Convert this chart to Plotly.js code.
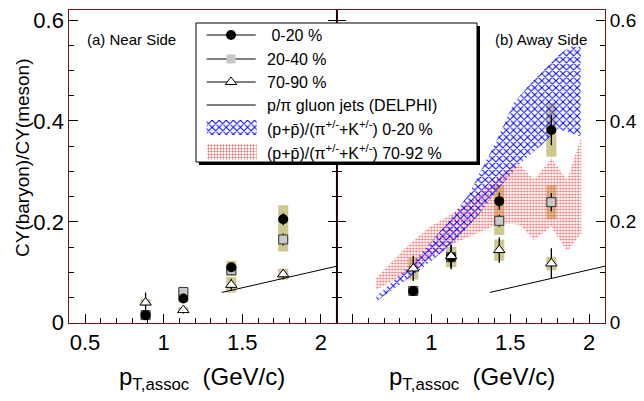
<!DOCTYPE html>
<html>
<head>
<meta charset="utf-8">
<script src="https://cdn.plot.ly/plotly-3.0.1.min.js"></script>
<style>html,body{margin:0;padding:0;background:#fff}#chart{width:644px;height:401px}</style>
</head>
<body>
<div id="chart"></div>
<script>
// ---------- data ----------
const ptAssoc = [0.885, 1.125, 1.43, 1.76];

// (a) Near side
const nearC0020 = [0.015, 0.048, 0.110, 0.205];
const nearC0020Stat = [0.006, 0.006, 0.008, 0.012];
const nearC0020Sys = [0.006, 0.008, 0.013, 0.028];
const nearC2040 = [0.015, 0.061, 0.104, 0.165];
const nearC2040Stat = [0.006, 0.006, 0.008, 0.012];
const nearC2040Sys = [0.006, 0.007, 0.012, 0.024];
const nearC7090 = [0.040, 0.025, 0.075, 0.096];
const nearC7090Stat = [0.020, 0.007, 0.012, 0.010];
const nearC7090Sys = [0.007, 0.006, 0.015, 0.011];

// (b) Away side
const awayC0020 = [0.063, 0.130, 0.241, 0.382];
const awayC0020Stat = [0.006, 0.024, 0.017, 0.030];
const awayC0020Sys = [0.006, 0.020, 0.032, 0.053];
const awayC2040 = [0.063, 0.130, 0.202, 0.239];
const awayC2040Stat = [0.006, 0.020, 0.012, 0.018];
const awayC2040Sys = [0.006, 0.018, 0.028, 0.034];
const awayC7090 = [0.1075, 0.132, 0.144, 0.1175];
const awayC7090Stat = [0.025, 0.022, 0.025, 0.030];
const awayC7090Sys = [0.022, 0.018, 0.021, 0.0135];

// DELPHI gluon-jet p/pi line
const delphiX = [1.37, 2.1];
const delphiY = [0.060, 0.112];

// (p+pbar)/(pi+K) 0-20 % band (blue)
const blueUpX = [0.65, 0.88, 1.10, 1.24, 1.31, 1.415, 1.52, 1.61, 1.73, 1.82, 1.88, 1.946];
const blueUpY = [0.052, 0.118, 0.197, 0.256, 0.300, 0.362, 0.435, 0.468, 0.507, 0.534, 0.547, 0.547];
const blueLoX = [0.65, 0.925, 1.136, 1.308, 1.436, 1.563, 1.65, 1.71, 1.80, 1.946];
const blueLoY = [0.042, 0.104, 0.157, 0.217, 0.270, 0.316, 0.340, 0.356, 0.385, 0.369];

// (p+pbar)/(pi+K) 70-92 % band (red)
const redX  = [0.65, 0.82, 0.99, 1.10, 1.25, 1.42, 1.50, 1.56, 1.65, 1.76, 1.86, 1.95];
const redUp = [0.088, 0.144, 0.190, 0.210, 0.245, 0.286, 0.309, 0.313, 0.283, 0.326, 0.283, 0.369];
const redLo = [0.065, 0.095, 0.128, 0.150, 0.172, 0.195, 0.196, 0.194, 0.164, 0.190, 0.141, 0.177];

const legendLabels = ['\u00a00-20 %', '20-40 %', '70-90 %', 'p/\u03c0 gluon jets (DELPHI)',
  '(p+p\u0304)/(\u03c0<sup>+/-</sup>+K<sup>+/-</sup>) 0-20 %',
  '(p+p\u0304)/(\u03c0<sup>+/-</sup>+K<sup>+/-</sup>) 70-92 %'];

// ---------- styling ----------
const W = 644, H = 401;
const FONT = 'Liberation Sans, Arial, sans-serif';
const FRAME = '#7a1414';
const SYS = '#cdc98e';
const px = v => v / W, py = v => 1 - v / H;

const mk = {
  c0020: {symbol: 'circle', size: 10, color: 'black'},
  c2040: {symbol: 'square', size: 9, color: '#c8c8c8', line: {color: '#333', width: 1}},
  c7090: {symbol: 'triangle-up', size: 10, color: 'white', line: {color: 'black', width: 1}}
};

function sysBar(vals, sys, xa, ya) {
  return {type: 'bar', x: ptAssoc, base: vals.map((v, i) => v - sys[i]), y: sys.map(s => 2 * s),
    width: 0.064, marker: {color: SYS, line: {width: 0}}, xaxis: xa, yaxis: ya,
    showlegend: false, hoverinfo: 'skip'};
}
function pts(vals, stat, m, xa, ya) {
  return {type: 'scatter', mode: 'markers', x: ptAssoc, y: vals,
    error_y: {type: 'data', array: stat, width: 0, thickness: 1.3, color: 'black'},
    marker: m, xaxis: xa, yaxis: ya, showlegend: false, cliponaxis: false};
}
function band(xu, yu, xl, yl, pattern) {
  return {type: 'scatter', mode: 'lines', x: xu.concat(xl.slice().reverse()),
    y: yu.concat(yl.slice().reverse()), fill: 'toself', line: {width: 0},
    fillcolor: 'rgba(0,0,0,0)', fillpattern: pattern, xaxis: 'x2', yaxis: 'y2', showlegend: false};
}
const bluePat = {shape: 'x', fgcolor: '#0000ff', bgcolor: 'rgba(0,0,0,0)', size: 5, solidity: 0.36};
const redPat = {shape: '.', fgcolor: '#ff5050', bgcolor: 'rgba(0,0,0,0)', size: 3, solidity: 0.3};

const traces = [];
// near side
traces.push(sysBar(nearC0020, nearC0020Sys, 'x', 'y'));
traces.push(sysBar(nearC2040, nearC2040Sys, 'x', 'y'));
traces.push(sysBar(nearC7090, nearC7090Sys, 'x', 'y'));
traces.push({type: 'scatter', mode: 'lines', x: delphiX, y: delphiY, line: {color: 'black', width: 1},
  xaxis: 'x', yaxis: 'y', showlegend: false});
traces.push(pts(nearC2040, nearC2040Stat, mk.c2040, 'x', 'y'));
traces.push(pts(nearC0020, nearC0020Stat, mk.c0020, 'x', 'y'));
traces.push(pts(nearC7090, nearC7090Stat, mk.c7090, 'x', 'y'));
// away side
traces.push(band(redX, redUp, redX, redLo, redPat));
traces.push(band(blueUpX, blueUpY, blueLoX, blueLoY, bluePat));
traces.push(sysBar(awayC0020, awayC0020Sys, 'x2', 'y2'));
traces.push(sysBar(awayC2040, awayC2040Sys, 'x2', 'y2'));
traces.push(sysBar(awayC7090, awayC7090Sys, 'x2', 'y2'));
traces.push({type: 'scatter', mode: 'lines', x: delphiX, y: delphiY, line: {color: 'black', width: 1},
  xaxis: 'x2', yaxis: 'y2', showlegend: false});
traces.push(pts(awayC2040, awayC2040Stat, mk.c2040, 'x2', 'y2'));
traces.push(pts(awayC0020, awayC0020Stat, mk.c0020, 'x2', 'y2'));
traces.push(pts(awayC7090, awayC7090Stat, mk.c7090, 'x2', 'y2'));

// ---------- pixel overlay: panel divider + hand-drawn legend ----------
const LG = {x0: 196, x1: 477, y0: 23, y1: 162, sh: 3, lx0: 206.7, lx1: 255.7, mx: 231, tx: 265,
  rows: [35, 59, 82, 105, 127.5, 152], sw: [[120, 135], [144, 160]]};
const DIV = {x: 336.7, y0: 10, y1: 322.7};
const ov = {xaxis: 'x3', yaxis: 'y3', showlegend: false, hoverinfo: 'skip'};
function rectTrace(x0, x1, y0, y1, extra) {
  return Object.assign({type: 'scatter', mode: 'lines', x: [x0, x1, x1, x0, x0], y: [y0, y0, y1, y1, y0],
    fill: 'toself'}, ov, extra);
}
traces.push(Object.assign({type: 'scatter', mode: 'lines', x: [DIV.x, DIV.x], y: [DIV.y0, DIV.y1],
  line: {color: 'black', width: 1.5}}, ov));
traces.push(rectTrace(LG.x0 + LG.sh, LG.x1 + LG.sh, LG.y0 + LG.sh, LG.y1 + LG.sh,
  {fillcolor: 'black', line: {width: 0}}));
traces.push(rectTrace(LG.x0, LG.x1, LG.y0, LG.y1, {fillcolor: 'white', line: {color: 'black', width: 1}}));
[0, 1, 2, 3].forEach(i => traces.push(Object.assign({type: 'scatter', mode: 'lines',
  x: [LG.lx0, LG.lx1], y: [LG.rows[i], LG.rows[i]], line: {color: 'black', width: 1}}, ov)));
traces.push(Object.assign({type: 'scatter', mode: 'markers', x: [LG.mx], y: [LG.rows[0]], marker: mk.c0020}, ov));
traces.push(Object.assign({type: 'scatter', mode: 'markers', x: [LG.mx], y: [LG.rows[1]],
  marker: {symbol: 'square', size: 9, color: '#c8c8c8'}}, ov));
traces.push(Object.assign({type: 'scatter', mode: 'markers', x: [LG.mx], y: [LG.rows[2]], marker: mk.c7090}, ov));
traces.push(rectTrace(LG.lx0, LG.lx1 + 1, LG.sw[0][0], LG.sw[0][1],
  {fillcolor: 'rgba(0,0,0,0)', fillpattern: bluePat, line: {width: 0}}));
traces.push(rectTrace(LG.lx0, LG.lx1 + 1, LG.sw[1][0], LG.sw[1][1],
  {fillcolor: 'rgba(0,0,0,0)', fillpattern: redPat, line: {width: 0}}));

const annotations = legendLabels.map((t, i) => ({xref: 'x3', yref: 'y3', x: LG.tx, y: LG.rows[i],
  xanchor: 'left', yanchor: 'middle', text: t, showarrow: false, font: {family: FONT, size: 16, color: 'black'}}));
annotations.push({xref: 'paper', yref: 'paper', x: px(85), y: py(39.5), xanchor: 'left', yanchor: 'middle',
  text: '(a) Near Side', showarrow: false, font: {family: FONT, size: 15, color: 'black'}});
annotations.push({xref: 'paper', yref: 'paper', x: px(493), y: py(39.5), xanchor: 'left', yanchor: 'middle',
  text: '(b) Away Side', showarrow: false, font: {family: FONT, size: 15, color: 'black'}});
annotations.push({xref: 'paper', yref: 'paper', x: px(22), y: py(158), xanchor: 'center', yanchor: 'middle',
  textangle: -90, text: 'CY(baryon)/CY(meson)', showarrow: false, font: {family: FONT, size: 19, color: 'black'}});
[202, 472].forEach(cx => annotations.push({xref: 'paper', yref: 'paper', x: px(cx), y: py(378),
  xanchor: 'center', yanchor: 'middle', text: 'p<sub>T,assoc</sub>\u00a0\u00a0(GeV/c)', showarrow: false,
  font: {family: FONT, size: 24, color: 'black'}}));

const xCommon = {range: [0.4, 2.1], tickmode: 'linear', tick0: 0.5, dtick: 0.5, ticks: 'inside', ticklen: 9,
  tickcolor: 'black', showline: true, linecolor: FRAME, linewidth: 1, mirror: true, showgrid: false,
  zeroline: false, tickfont: {family: FONT, size: 22, color: 'black'},
  minor: {tickmode: 'linear', tick0: 0, dtick: 0.1, ticks: 'inside', ticklen: 5, tickcolor: 'black', showgrid: false}};
const yCommon = {range: [0, 0.62], tickmode: 'linear', tick0: 0, dtick: 0.2, ticks: 'inside', ticklen: 9,
  tickcolor: 'black', showline: true, linecolor: FRAME, linewidth: 1, mirror: 'ticks', showgrid: false,
  zeroline: false, minor: {tickmode: 'linear', tick0: 0, dtick: 0.05, ticks: 'inside', ticklen: 5, tickcolor: 'black', showgrid: false}};

const layout = {
  width: W, height: H, margin: {l: 0, r: 0, t: 0, b: 0}, paper_bgcolor: 'white', plot_bgcolor: 'rgba(0,0,0,0)',
  showlegend: false, barmode: 'overlay', font: {family: FONT, color: 'black'},
  xaxis: Object.assign({}, xCommon, {domain: [px(69.3), px(336.7)], anchor: 'y'}),
  yaxis: Object.assign({}, yCommon, {domain: [py(322.7), py(10)], anchor: 'x',
    tickfont: {family: FONT, size: 22, color: 'black'}}),
  xaxis2: Object.assign({}, xCommon, {domain: [px(336.7), px(605)], anchor: 'y2', tickmode: 'array',
    tickvals: [0.5, 1, 1.5, 2], ticktext: ['', '1', '1.5', '2']}),
  yaxis2: Object.assign({}, yCommon, {domain: [py(322.7), py(10)], anchor: 'x2', side: 'right',
    tickfont: {family: FONT, size: 19, color: 'black'}}),
  xaxis3: {domain: [0, 1], range: [0, W], visible: false, anchor: 'y3', fixedrange: true},
  yaxis3: {domain: [0, 1], range: [H, 0], visible: false, anchor: 'x3', fixedrange: true},
  annotations: annotations
};

Plotly.newPlot('chart', traces, layout, {staticPlot: true, displayModeBar: false});
</script>
</body>
</html>
